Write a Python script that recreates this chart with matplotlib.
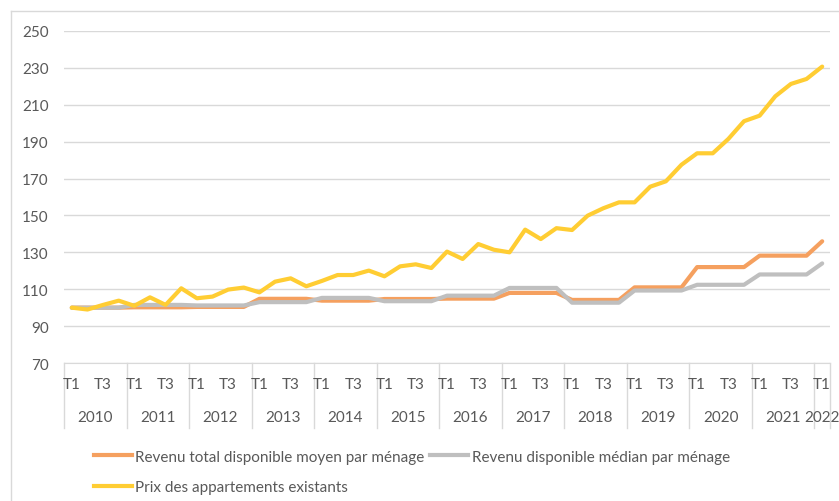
import matplotlib.pyplot as plt
from matplotlib.lines import Line2D

plt.rcParams['font.family'] = ['Lato', 'DejaVu Sans']

years = ['2010', '2011', '2012', '2013', '2014', '2015', '2016',
         '2017', '2018', '2019', '2020', '2021', '2022']
quarters = ['T1', 'T2', 'T3', 'T4']

# indices base 100 = 2010 T1, quarterly from 2010 T1 to 2022 T1
revenu_moyen = [100, 100, 100, 100,
                100.2, 100.2, 100.2, 100.2,
                100.4, 100.4, 100.4, 100.4,
                104.8, 104.8, 104.8, 104.8,
                103.8, 103.8, 103.8, 103.8,
                104.7, 104.7, 104.7, 104.7,
                104.9, 104.9, 104.9, 104.9,
                108.0, 108.0, 108.0, 108.0,
                104.2, 104.2, 104.2, 104.2,
                111.0, 111.0, 111.0, 111.0,
                122.0, 122.0, 122.0, 122.0,
                128.2, 128.2, 128.2, 128.2,
                136.0]

revenu_median = [100, 100, 100, 100,
                 101.5, 101.5, 101.5, 101.5,
                 101.2, 101.2, 101.2, 101.2,
                 103.0, 103.0, 103.0, 103.0,
                 105.3, 105.3, 105.3, 105.3,
                 103.5, 103.5, 103.5, 103.5,
                 106.5, 106.5, 106.5, 106.5,
                 110.7, 110.7, 110.7, 110.7,
                 102.7, 102.7, 102.7, 102.7,
                 109.3, 109.3, 109.3, 109.3,
                 112.4, 112.4, 112.4, 112.4,
                 118.0, 118.0, 118.0, 118.0,
                 124.0]

prix_appartements = [100, 99, 101.5, 103.8,
                     101, 105.6, 101.5, 110.5,
                     105.1, 106, 109.8, 110.9,
                     108.3, 114.1, 115.9, 111.6,
                     114.5, 117.7, 117.7, 120.1,
                     117, 122.4, 123.5, 121.5,
                     130.4, 126.4, 134.5, 131.4,
                     130, 142.3, 137.2, 143.1,
                     142.1, 149.9, 153.9, 157.1,
                     157.1, 165.6, 168.5, 177.5,
                     183.7, 183.7, 191.5, 201.1,
                     204.1, 214.6, 221.3, 224,
                     230.7]

labels = ['Revenu total disponible moyen par ménage',
          'Revenu disponible médian par ménage',
          'Prix des appartements existants']
colors = ['#F5A05F', '#BFBFBF', '#FFCD33']

W, H = 839, 502
fig = plt.figure(figsize=(W / 100, H / 100), dpi=100)
ax = fig.add_axes([64 / W, 1 - 364 / H, (830 - 64) / W, (364 - 32) / H])

n = len(prix_appartements)
x = list(range(n))
for serie, c in zip([revenu_moyen, revenu_median, prix_appartements], colors):
    ax.plot(x, serie, color=c, lw=3, solid_capstyle='round', solid_joinstyle='round')

ax.set_xlim(-0.5, n - 0.5)
ax.set_ylim(70, 250)
ax.set_yticks(range(70, 251, 20))
ax.yaxis.grid(True, color='#D9D9D9', lw=1)
ax.set_axisbelow(True)
for s in ['top', 'right', 'left']:
    ax.spines[s].set_visible(False)
ax.spines['bottom'].set_color('#D9D9D9')
ax.tick_params(axis='y', length=0, pad=11, labelsize=11, labelcolor='#595959')
ax.set_xticks([])

# two-level category axis: quarters then years, with year separators
tr = ax.get_xaxis_transform()
for i in range(n):
    q = quarters[i % 4]
    if q in ('T1', 'T3'):
        ax.text(i, -0.063, q, transform=tr, ha='center', va='center',
                fontsize=11, color='#595959')
for k, y in enumerate(years):
    start = k * 4 - 0.5
    end = min(k * 4 + 3.5, n - 0.5)
    ax.text((start + end) / 2, -0.163, y, transform=tr, ha='center', va='center',
            fontsize=11, color='#595959')
    ax.plot([start, start], [0, -0.196], transform=tr, color='#D9D9D9',
            lw=1, clip_on=False)
ax.plot([n - 0.5, n - 0.5], [0, -0.196], transform=tr, color='#D9D9D9',
        lw=1, clip_on=False)

# chart frame
fig.add_artist(Line2D([11 / W, 11 / W], [0, 1 - 12 / H], color='#D9D9D9', lw=1))
fig.add_artist(Line2D([11 / W, 1], [1 - 12 / H, 1 - 12 / H], color='#D9D9D9', lw=1))

# legend filled column by column: moyen + prix on the left, médian on the right
handles = [Line2D([], [], color=c, lw=3) for c in colors]
order = [0, 2, 1]
fig.legend([handles[i] for i in order], [labels[i] for i in order], ncol=2,
           loc='upper left', frameon=False,
           bbox_to_anchor=(86 / W, 1 - 443 / H), borderpad=0,
           handlelength=2.5, handletextpad=0.2, columnspacing=0.4,
           labelspacing=1.1, fontsize=11, labelcolor='#595959')

fig.savefig('out.png', dpi=100)
